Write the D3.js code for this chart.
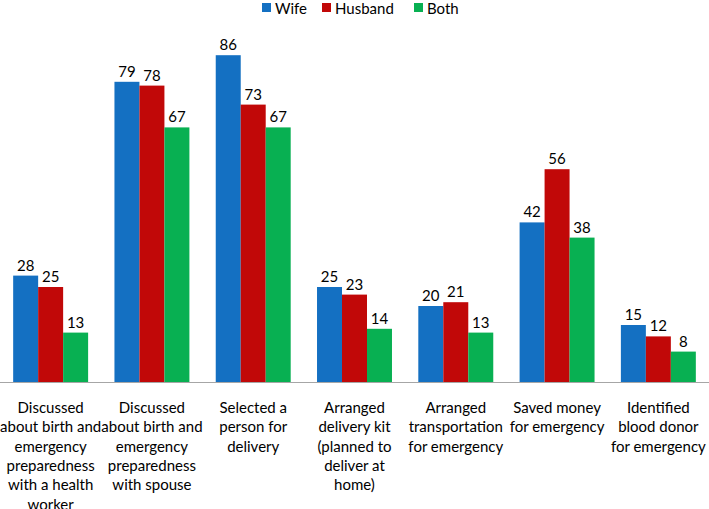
<!DOCTYPE html>
<html lang="en">
<head>
<meta charset="utf-8">
<title>Birth preparedness</title>
<script src="https://cdn.jsdelivr.net/npm/d3@7"></script>
<style>
  body { margin: 0; background: #fff; }
  text { font-family: Lato, "Open Sans", sans-serif; fill: #000; }
</style>
</head>
<body>
<div id="chart"></div>
<script>
var categories = [
  ["Discussed", "about birth and", "emergency", "preparedness", "with a health", "worker"],
  ["Discussed", "about birth and", "emergency", "preparedness", "with spouse"],
  ["Selected a", "person for", "delivery"],
  ["Arranged", "delivery kit", "(planned to", "deliver at", "home)"],
  ["Arranged", "transportation", "for emergency"],
  ["Saved money", "for emergency"],
  ["Identified", "blood donor", "for emergency"]
];
var seriesNames = ["Wife", "Husband", "Both"];
var wife    = [28, 79, 86, 25, 20, 42, 15];
var husband = [25, 78, 73, 23, 21, 56, 12];
var both    = [13, 67, 67, 14, 13, 38, 8];
var colors  = ["#1470c2", "#c10808", "#08b052"];

var width = 709, height = 509;
var series = [wife, husband, both];

var svg = d3.select("#chart").append("svg")
    .attr("width", width)
    .attr("height", height);

var x0 = d3.scaleBand()
    .domain(d3.range(categories.length))
    .range([0, width])
    .paddingInner(0.26)
    .paddingOuter(0.13);

var x1 = d3.scaleBand()
    .domain(d3.range(seriesNames.length))
    .range([0, x0.bandwidth()]);

var y = d3.scaleLinear()
    .domain([0, 100])
    .range([382, 2]);

var groups = svg.append("g").selectAll("g")
    .data(categories)
  .enter().append("g")
    .attr("transform", function(d, i) { return "translate(" + x0(i) + ",0)"; });

groups.selectAll("rect")
    .data(function(d, i) { return series.map(function(s, k) { return {k: k, v: s[i]}; }); })
  .enter().append("rect")
    .attr("x", function(d) { return x1(d.k); })
    .attr("y", function(d) { return y(d.v); })
    .attr("width", x1.bandwidth())
    .attr("height", function(d) { return y(0) - y(d.v); })
    .attr("fill", function(d) { return colors[d.k]; });

groups.selectAll("text.val")
    .data(function(d, i) { return series.map(function(s, k) { return {k: k, v: s[i]}; }); })
  .enter().append("text")
    .attr("class", "val")
    .attr("x", function(d) { return x1(d.k) + x1.bandwidth() / 2; })
    .attr("y", function(d) { return y(d.v) - 5; })
    .attr("text-anchor", "middle")
    .style("font-size", "15px")
    .text(function(d) { return d.v; });

// baseline
svg.append("line")
    .attr("x1", 0).attr("x2", width)
    .attr("y1", y(0) + 0.5).attr("y2", y(0) + 0.5)
    .attr("stroke", "#a6a6a6");

// category labels
groups.append("text")
    .attr("text-anchor", "middle")
    .style("font-size", "15px")
    .selectAll("tspan")
    .data(function(d) { return d; })
  .enter().append("tspan")
    .attr("x", x0.bandwidth() / 2)
    .attr("y", function(d, j) { return 413 + j * 19.3; })
    .text(function(d) { return d; });

// legend
var legendX = [262, 322, 414];
var legend = svg.append("g").selectAll("g")
    .data(seriesNames)
  .enter().append("g")
    .attr("transform", function(d, i) { return "translate(" + legendX[i] + ",0)"; });

legend.append("rect")
    .attr("x", 0).attr("y", 3)
    .attr("width", 9).attr("height", 9)
    .attr("fill", function(d, i) { return colors[i]; });

legend.append("text")
    .attr("x", 13).attr("y", 14)
    .style("font-size", "15px")
    .text(function(d) { return d; });
</script>
</body>
</html>
